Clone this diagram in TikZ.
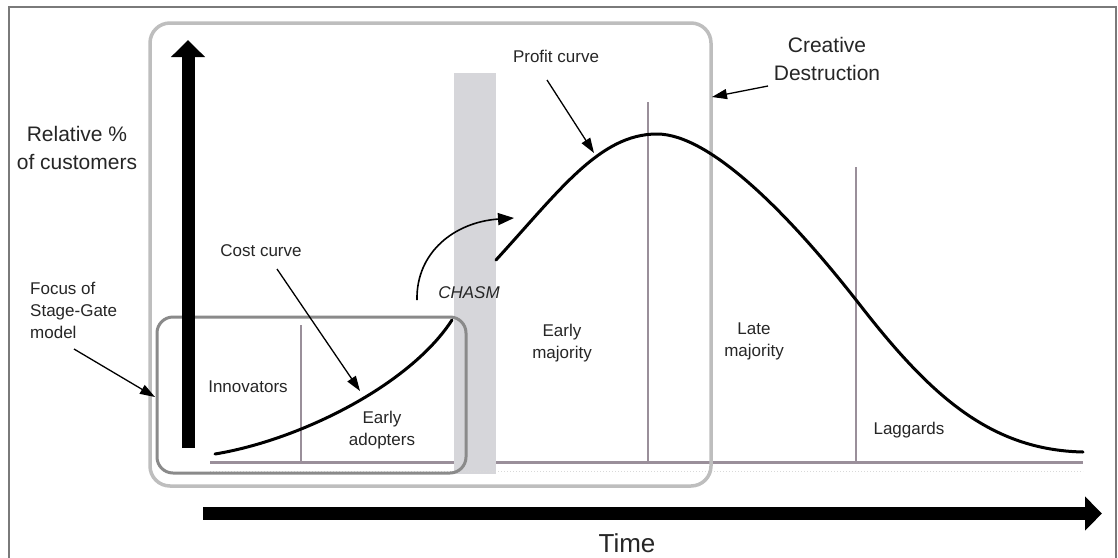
\documentclass[tikz,border=0pt]{standalone}
\usepackage{fontspec}
\setmainfont{Liberation Sans}
\usetikzlibrary{arrows.meta}
\definecolor{framegray}{HTML}{7A7A7A}
\definecolor{boxlight}{HTML}{BEBEBE}
\definecolor{boxdark}{HTML}{8A8A8A}
\definecolor{divgray}{HTML}{9A8F9A}
\definecolor{chasmgray}{HTML}{D6D6DA}
\definecolor{txt}{HTML}{262626}
\begin{document}
\begin{tikzpicture}[x=1pt,y=-1pt,
  big/.style={font=\fontsize{21}{28}\selectfont, text=txt, align=center, inner sep=0pt},
  small/.style={font=\fontsize{17}{22}\selectfont, text=txt, align=center, inner sep=0pt},
  divider/.style={draw=divgray, line width=2pt},
  pointer/.style={line width=1.3pt, -{Triangle[length=15pt,width=10pt]}},
  curveline/.style={line width=3pt, line cap=round},
  axisarrow/.style={line width=13pt, -{Triangle[length=17pt,width=33pt]}}]
\useasboundingbox (0,0) rectangle (1118,557);
\fill[white] (0,0) rectangle (1118,557);
% outer frame
\draw[framegray, line width=2pt] (9,560) -- (9,7) -- (1116,7) -- (1116,560);
% chasm bar
\fill[chasmgray] (454,73) rectangle (496,474);
% baseline and faint dotted line
\draw[divgray, line width=2.5pt] (210,462.5) -- (454,462.5);
\draw[divgray, line width=2.5pt] (496,462.5) -- (1083,462.5);
\draw[black!15, line width=1pt, dotted] (210,471) -- (1083,471);
% dividers
\draw[divider] (301,325) -- (301,462);
\draw[divider] (648,102) -- (648,462);
\draw[divider] (856,167) -- (856,462);
% big frame (creative destruction)
\draw[boxlight, line width=3.5pt, rounded corners=20pt] (150,23) rectangle (711,486);
% focus box
\draw[boxdark, line width=3pt, rounded corners=16pt] (157,317) rectangle (466,473);
% axes arrows
\coordinate (ybot) at (188,448);
\coordinate (ytop) at (188,40);
\draw[axisarrow] (ybot) -- (ytop);
\coordinate (xleft) at (203,513.5);
\coordinate (xright) at (1102,513.5);
\draw[axisarrow] (xleft) -- (xright);
% cost curve
\draw[curveline] (215,454) .. controls (300,440) and (410,385) .. (452,320);
% profit curve
\draw[curveline] (496,260) .. controls (560,190) and (600,134) .. (657,134)
  .. controls (710,134) and (790,215) .. (860,305)
  .. controls (930,395) and (990,450) .. (1083,452);
% labels
\node[big] (rel) at (77,147.5) {Relative \%\\of customers};
\node[big] (creat) at (827,58.5) {Creative\\Destruction};
\node[font=\fontsize{26}{30}\selectfont, text=txt, inner sep=0pt] (time) at (627,543) {Time};
\node[small, align=left, anchor=west] (focus) at (30,310) {Focus of\\Stage-Gate\\model};
\node[small] (cost) at (261,251) {Cost curve};
\node[small] (profit) at (556,56) {Profit curve};
\node[small] (innov) at (248,387) {Innovators};
\node[small] (eadopt) at (382,430) {Early\\adopters};
\node[small] (emaj) at (562,343) {Early\\majority};
\node[small] (lmaj) at (754,341) {Late\\majority};
\node[small] (lag) at (909,430) {Laggards};
\node[small, font=\fontsize{17}{22}\selectfont\itshape] (chasm) at (469,293) {CHASM};
% pointers
\coordinate (costpt) at (360,391);
\coordinate (profitpt) at (594,153);
\coordinate (creatpt) at (712,97);
\coordinate (focuspt) at (155,397);
\coordinate (chasmstart) at (417,300);
\coordinate (chasmend) at (514,218);
\draw[pointer] (277,269) -- (costpt);
\draw[pointer] (547,80) -- (profitpt);
\draw[pointer] (768,86) -- (creatpt);
\draw[pointer] (74,349) -- (focuspt);
\draw[line width=1.6pt, -{Triangle[length=16pt,width=12pt]}] (chasmstart) .. controls (416,252) and (455,222) .. (chasmend);
\end{tikzpicture}
\end{document}
